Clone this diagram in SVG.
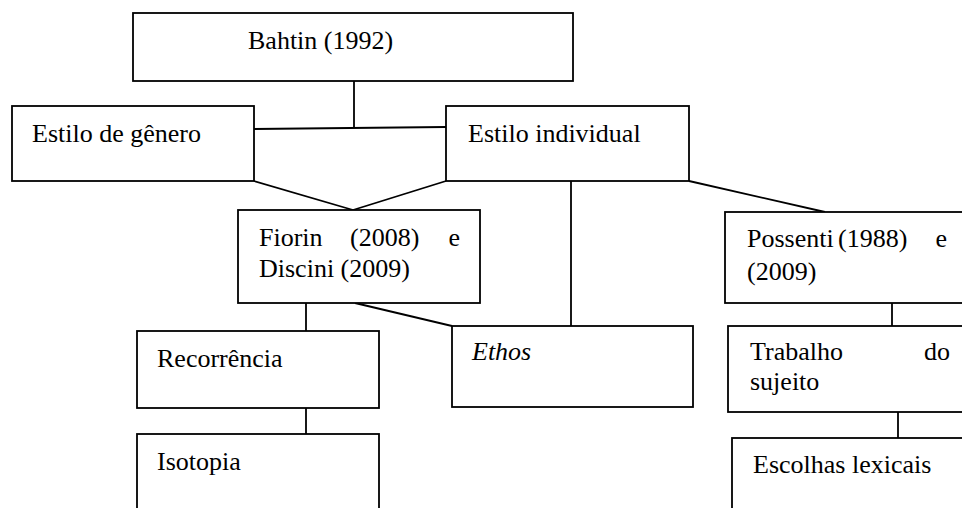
<svg xmlns="http://www.w3.org/2000/svg" width="962" height="508" viewBox="0 0 962 508">
<style>
rect{fill:#fff;stroke:#000;stroke-width:1.8}
line{stroke:#000;stroke-width:1.8}
text{font-family:"Liberation Serif","Times New Roman",serif;font-size:26px;fill:#000}
.it{font-style:italic}
</style>
<rect x="0" y="0" width="962" height="508" style="stroke:none"/>
<g id="connectors">
<line x1="354" y1="81" x2="354" y2="128"/>
<line x1="254" y1="129" x2="446" y2="127"/>
<line x1="254" y1="181" x2="353" y2="210"/>
<line x1="446" y1="181" x2="353" y2="210"/>
<line x1="571" y1="181" x2="571" y2="326"/>
<line x1="689" y1="181" x2="825" y2="212"/>
<line x1="306" y1="303" x2="306" y2="331"/>
<line x1="306" y1="408" x2="306" y2="434"/>
<line x1="355" y1="303" x2="452" y2="326"/>
<line x1="892" y1="303" x2="892" y2="326"/>
<line x1="898" y1="412" x2="898" y2="438"/>
</g>
<g id="bahtin"><rect x="133" y="13" width="440" height="68"/><text x="248" y="49">Bahtin (1992)</text></g>
<g id="genero"><rect x="12" y="106" width="242" height="75"/><text x="32" y="142">Estilo de gênero</text></g>
<g id="individual"><rect x="446" y="106" width="243" height="75"/><text x="468" y="142">Estilo individual</text></g>
<g id="fiorin"><rect x="238" y="210" width="242" height="93"/><text x="259" y="246">Fiorin</text><text x="350" y="246">(2008)</text><text x="460" y="246" text-anchor="end">e</text><text x="259" y="277">Discini (2009)</text></g>
<g id="possenti"><rect x="725" y="212" width="260" height="91"/><text x="747" y="247">Possenti</text><text x="838" y="247">(1988)</text><text x="947" y="247" text-anchor="end">e</text><text x="747" y="280">(2009)</text></g>
<g id="recorrencia"><rect x="137" y="331" width="242" height="77"/><text x="157" y="367">Recorrência</text></g>
<g id="ethos"><rect x="452" y="326" width="241" height="81"/><text class="it" x="472" y="360">Ethos</text></g>
<g id="trabalho"><rect x="728" y="326" width="260" height="86"/><text x="750" y="360">Trabalho</text><text x="950" y="360" text-anchor="end">do</text><text x="750" y="390">sujeito</text></g>
<g id="isotopia"><rect x="137" y="434" width="242" height="90"/><text x="157" y="470">Isotopia</text></g>
<g id="escolhas"><rect x="732" y="438" width="260" height="90"/><text x="753" y="473">Escolhas lexicais</text></g>
</svg>
